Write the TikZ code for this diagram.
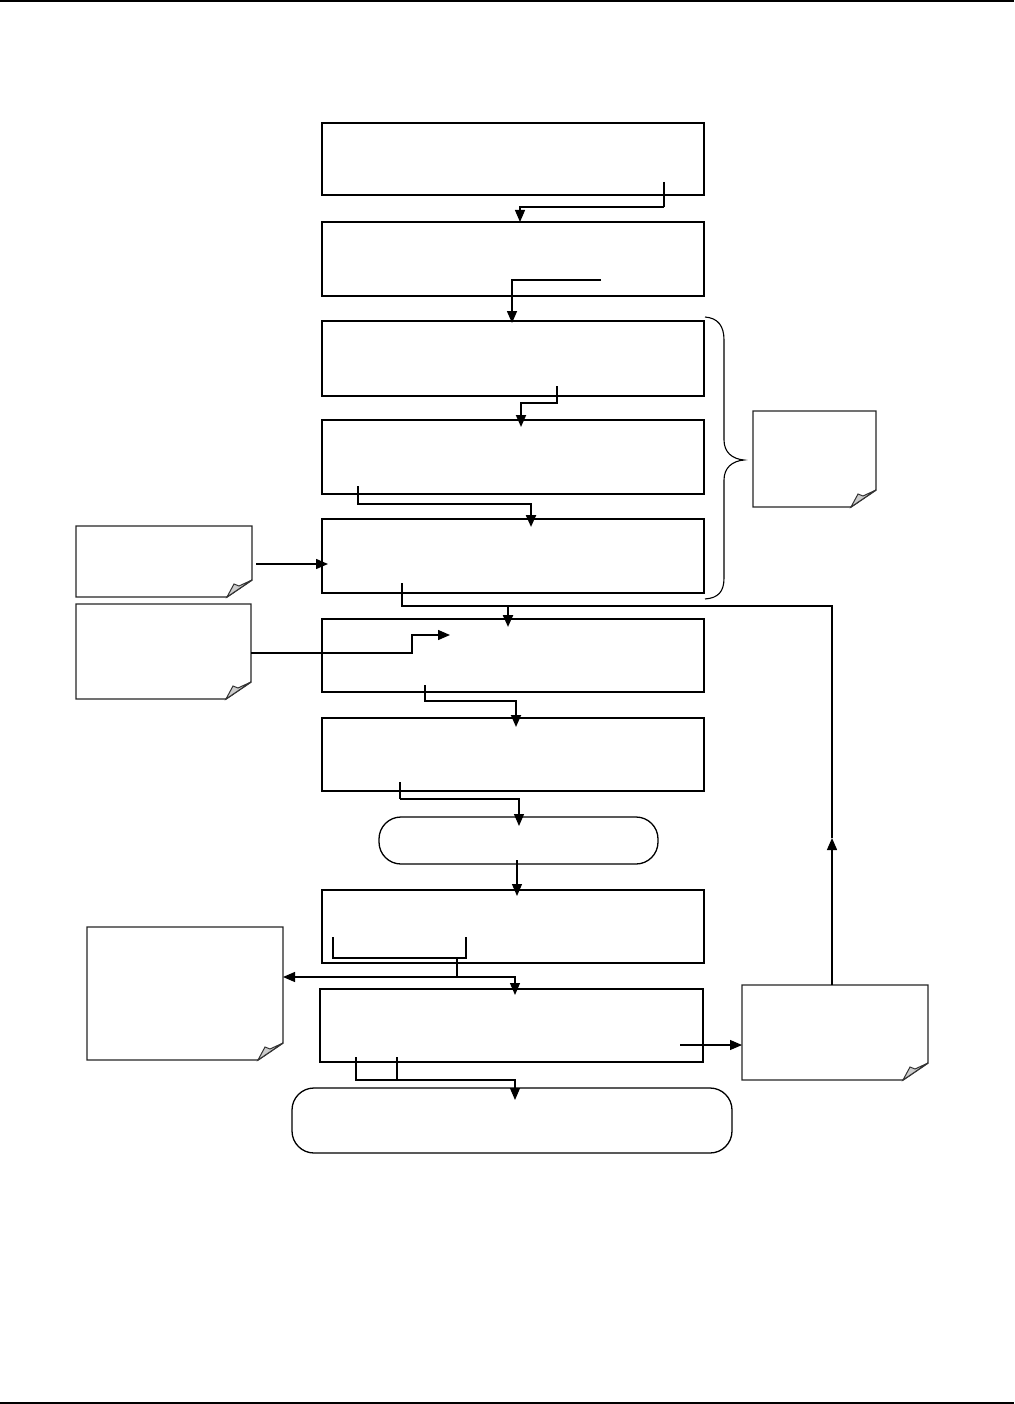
\documentclass[tikz,border=0pt]{standalone}
\usetikzlibrary{arrows.meta,calc}
\begin{document}
\begin{tikzpicture}[x=1pt,y=-1pt,
  box/.style={draw,line width=1.6pt,inner sep=0pt,outer sep=0pt},
  term/.style={draw,line width=1.3pt,rounded corners=22pt,inner sep=0pt,outer sep=0pt},
  notebox/.style={inner sep=0pt,outer sep=0pt},
  noteline/.style={draw=black!85,line width=1.4pt,line join=miter},
  flow/.style={line width=1.8pt,-{Triangle[length=12pt,width=10pt]}},
  flowthin/.style={line width=1.2pt,-{Triangle[length=12pt,width=10pt]}},
  thinline/.style={line width=1.1pt},
  arr/.style={-{Triangle[length=12pt,width=10pt]}}]
\useasboundingbox (0,0) rectangle (1014,1404);
\fill[white] (0,0) rectangle (1014,1404);
\draw[line width=2pt] (0,1) -- (1014,1);
\draw[line width=2pt] (0,1403) -- (1014,1403);

% main boxes
\node[box,minimum width=382pt,minimum height=72pt] (b1) at (513,159) {};
\node[box,minimum width=382pt,minimum height=74pt] (b2) at (513,259) {};
\node[box,minimum width=382pt,minimum height=75pt] (b3) at (513,358.5) {};
\node[box,minimum width=382pt,minimum height=74pt] (b4) at (513,457) {};
\node[box,minimum width=382pt,minimum height=74pt] (b5) at (513,556) {};
\node[box,line width=2pt,minimum width=382pt,minimum height=73pt] (b6) at (513,655.5) {};
\node[box,line width=2pt,minimum width=382pt,minimum height=73pt] (b7) at (513,754.5) {};
\node[term,minimum width=279pt,minimum height=47pt] (t1) at (518.5,840.5) {};
\node[box,line width=2pt,minimum width=382pt,minimum height=73pt] (b8) at (513,926.5) {};
\node[box,line width=2.2pt,minimum width=383pt,minimum height=73pt] (b9) at (511.5,1025.5) {};
\node[term,minimum width=440pt,minimum height=65pt] (t2) at (512,1120.5) {};

% notes
\newcommand\drawnote[1]{%
  \draw[noteline] (#1.north west) -- (#1.north east) -- ([yshift=17pt]#1.south east)
     -- ([xshift=-25pt]#1.south east) -- (#1.south west) -- cycle;
  \filldraw[fill=black!20,draw=black!80,line width=1pt] ([yshift=17pt]#1.south east)
     -- ([xshift=-25pt]#1.south east) -- ([xshift=-18pt,yshift=13pt]#1.south east)
     -- ([xshift=-13pt,yshift=11pt]#1.south east) -- cycle;}
\node[notebox,minimum width=176pt,minimum height=71pt] (n1) at (164,561.5) {};
\node[notebox,minimum width=175pt,minimum height=95pt] (n2) at (163.5,651.5) {};
\node[notebox,minimum width=196pt,minimum height=133pt] (n3) at (185,993.5) {};
\node[notebox,minimum width=186pt,minimum height=95pt] (n4) at (835,1032.5) {};
\node[notebox,minimum width=123pt,minimum height=96pt] (n5) at (814.5,459) {};
\drawnote{n1}\drawnote{n2}\drawnote{n3}\drawnote{n4}\drawnote{n5}

% brace
\draw[line width=1.1pt] (705,317) .. controls (718,318) and (724,326) .. (724,340)
  -- (724,440) .. controls (724,452) and (732,459) .. (744,460)
  .. controls (732,461) and (724,468) .. (724,480)
  -- (724,578) .. controls (724,592) and (718,598) .. (705,599);

% start coordinates
\coordinate (s1) at (664,182);
\coordinate (s2) at (601,280);
\coordinate (s3) at (557,386);
\coordinate (s4) at (358,486);
\coordinate (s5) at (402,583);
\coordinate (s6) at (256,564);
\coordinate (s7) at (425,685);
\coordinate (s8) at (400,782);
\coordinate (s9) at (517,860);
\coordinate (s10) at (457,957);
\coordinate (s11a) at (356,1057);
\coordinate (s11b) at (397,1057);
\coordinate (s12) at (680,1045);
\coordinate (e7) at (450,635);
\coordinate (loopcorner) at (832,606);
\coordinate (looparrow) at (832,838);

% connectors
\draw[line width=2.4pt] (s1) -- (664,207);
\draw[flowthin] (664,207) -| ([xshift=7pt]b2.north);
\draw[flowthin,line width=1.5pt] (s2) -| ([xshift=-1pt,yshift=-2pt]b3.north);
\draw[flow] (s3) |- (521,403) -- ([xshift=8pt,yshift=-7pt]b4.north);
\draw[flow,line width=2.2pt] (s4) |- (531,504) -- ([xshift=18pt,yshift=-8pt]b5.north);
\draw[flow,line width=2.2pt] (s5) |- (508,606) -- ([xshift=-5pt,yshift=-8pt]b6.north);
\draw[arr,line width=1.5pt] (s6) -- ([xshift=6pt,yshift=-8pt]b5.west);
\draw[arr,line width=1.4pt] ([yshift=-1.5pt]n2.east) -- (412,653) |- (e7);
\draw[flow] (s7) |- (516,701) -- ([xshift=3pt,yshift=-9pt]b7.north);
\draw[line width=2.4pt] (s8) -- (400,799);
\draw[flowthin] (400,799) -| ([xshift=0.5pt,yshift=-9pt]t1.north);
\draw[flowthin] (s9) -- ([xshift=4pt,yshift=-6pt]b8.north);
\draw[thinline] (333,937) |- (466,958) -- (466,937);
\draw[flowthin] (s10) |- (515,977) -- ([xshift=3.5pt,yshift=-6pt]b9.north);
\draw[arr,line width=1.2pt] (457,977) -- ([yshift=16.5pt]n3.east);
\draw[thinline] (s11a) |- (397,1080);
\draw[flowthin] (s11b) |- (515,1080) -- ([xshift=3pt,yshift=-12pt]t2.north);
\draw[arr,line width=1.2pt] (s12) -- ([yshift=-12.5pt]n4.west);
\draw[arr,line width=1.4pt] ([xshift=-3pt]n4.north) -- (looparrow);
\draw[line width=1.4pt] (looparrow) -- (loopcorner) -- (508,606);
\end{tikzpicture}
\end{document}
